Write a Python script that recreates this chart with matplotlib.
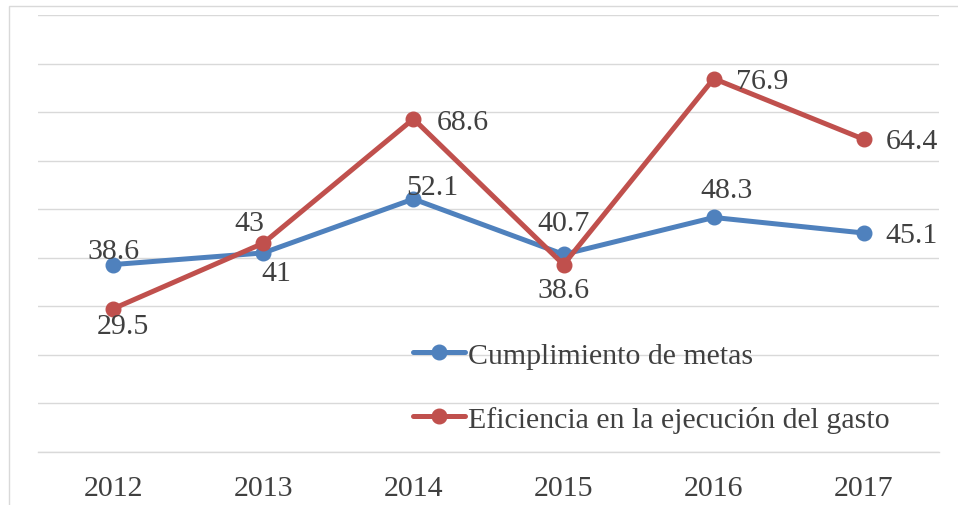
import matplotlib
matplotlib.use("Agg")
import matplotlib.pyplot as plt
from matplotlib.patches import Rectangle

years = ["2012", "2013", "2014", "2015", "2016", "2017"]
metas = [38.6, 41, 52.1, 40.7, 48.3, 45.1]
gasto = [29.5, 43, 68.6, 38.6, 76.9, 64.4]
label_metas = "Cumplimiento de metas"
label_gasto = "Eficiencia en la ejecución del gasto"

# label offsets in pixels (dx, dy up positive)
off_metas = [(0, 14), (13, -20), (19, 12), (0, 31), (13, 27), (48, -2)]
off_gasto = [(10, -17), (-14, 20), (49, -3), (0, -25), (48, -2), (48, -2)]

BLUE = "#4F81BD"
RED = "#C0504D"
TXT = "#404040"
GRID = "#D9D9D9"
FS = 21.5

plt.rcParams['font.family'] = ['Liberation Serif', 'DejaVu Serif']
W, H = 958, 506
fig = plt.figure(figsize=(W / 100, H / 100), dpi=100)

# outer chart frame
fig.patches.append(Rectangle((9 / W, -0.1), 1.2, (H - 7) / H + 0.1, transform=fig.transFigure,
                             fill=False, edgecolor=GRID, linewidth=1.0))

ax = fig.add_axes([38 / W, 53 / H, (939 - 38) / W, (453 - 16) / H])
x = list(range(len(years)))
ax.set_xlim(-0.5, len(years) - 0.5)
ax.set_ylim(0, 90)
ax.set_yticks(range(0, 91, 10))
ax.yaxis.grid(True, color=GRID, linewidth=1.0)
ax.set_axisbelow(True)
for s in ["top", "right", "left"]:
    ax.spines[s].set_visible(False)
ax.spines["bottom"].set_color(GRID)
ax.spines["bottom"].set_linewidth(1.0)
ax.tick_params(axis="y", left=False, labelleft=False)
ax.set_xticks(x)
ax.set_xticklabels(years)
ax.tick_params(axis="x", length=0, pad=16.5, labelsize=FS, labelcolor=TXT)

ax.plot(x, metas, color=BLUE, linewidth=3.6, marker="o", markersize=10.5, label=label_metas,
        solid_capstyle="round", zorder=3)
ax.plot(x, gasto, color=RED, linewidth=3.6, marker="o", markersize=10.5, label=label_gasto,
        solid_capstyle="round", zorder=4)

for xi, v, (dx, dy) in zip(x, metas, off_metas):
    ax.annotate(f"{v:g}", (xi, v), xytext=(dx * 0.72, dy * 0.72), textcoords="offset points",
                ha="center", va="center", fontsize=FS, color=TXT, zorder=5)
for xi, v, (dx, dy) in zip(x, gasto, off_gasto):
    ax.annotate(f"{v:g}", (xi, v), xytext=(dx * 0.72, dy * 0.72), textcoords="offset points",
                ha="center", va="center", fontsize=FS, color=TXT, zorder=5)

leg = ax.legend(loc="upper left", bbox_to_anchor=(413 / W, (H - 343) / H),
                bbox_transform=fig.transFigure, frameon=False, fontsize=FS,
                handlelength=1.75, handletextpad=0.1, labelspacing=1.23,
                borderpad=0, borderaxespad=0)
for t in leg.get_texts():
    t.set_color(TXT)

fig.savefig("out.png", dpi=100, facecolor="white")
